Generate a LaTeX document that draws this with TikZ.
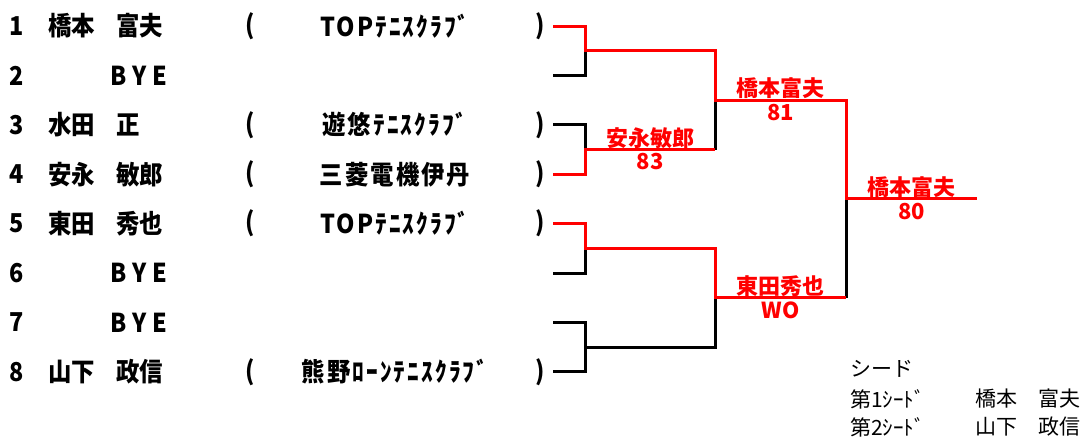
\documentclass[tikz,border=0pt]{standalone}
\usepackage{fontspec}
\setmainfont{Noto Sans CJK JP}
\usepackage{tikz}
\usetikzlibrary{calc}

\tikzset{
  entry/.style={font=\bfseries\fontsize{26}{26}\selectfont\addfontfeature{FakeStretch=0.9}, inner sep=0pt},
  club/.style={entry, font=\bfseries\fontsize{26}{26}\selectfont\addfontfeature{FakeStretch=0.9,LetterSpace=8}},
  winner/.style={font=\bfseries\fontsize{22}{22}\selectfont, text=red, inner sep=1pt},
  seedtxt/.style={font=\fontsize{21}{21}\selectfont, inner sep=0pt, anchor=west},
  blk/.style={line width=3pt, line join=miter},
  rdl/.style={line width=3pt, line join=miter, red},
}

\begin{document}
\begin{tikzpicture}[x=1pt,y=-1pt]
        \useasboundingbox (0,0) rectangle (1090,439);
        \foreach \i in {1,...,8}{
          \node[entry] (n\i) at (17,{26+49.4*(\i-1)}) {\i};
          \coordinate (e\i) at (553,{26+49.4*(\i-1)});
        }
        \foreach \i/\fam/\giv in {1/橋本/富夫,3/水田/正,4/安永/敏郎,5/東田/秀也,8/山下/政信}{
          \node[entry,anchor=west] (fam\i) at (48,{26+49.4*(\i-1)}) {\fam};
          \node[entry,anchor=west] (giv\i) at (116,{26+49.4*(\i-1)}) {\giv};
        }
        \foreach \i in {2,6,7}
          \node[entry,anchor=west] (bye\i) at (110,{26+49.4*(\i-1)}) {B\hspace{6pt}Y\hspace{6pt}E};
        \foreach \i/\cl in {1/TOPﾃﾆｽｸﾗﾌﾞ,3/遊悠ﾃﾆｽｸﾗﾌﾞ,4/三菱電機伊丹,5/TOPﾃﾆｽｸﾗﾌﾞ,8/熊野ﾛｰﾝﾃﾆｽｸﾗﾌﾞ}{
          \node[entry] (lp\i) at (250,{26+49.4*(\i-1)}) {(};
          \node[club] (cl\i) at (395,{26+49.4*(\i-1)}) {\cl};
          \node[entry] (rp\i) at (540,{26+49.4*(\i-1)}) {)};
        }
        % rounds
        \coordinate (m1) at (585,50.7);
        \coordinate (m2) at (585,149.5);
        \coordinate (m3) at (585,248.3);
        \coordinate (m4) at (585,347.1);
        \coordinate (s1) at (715,100.1);
        \coordinate (s2) at (715,297.7);
        \coordinate (f) at (846,198.9);
        \coordinate (fin) at (977,198.9);
        \draw[blk] (e2) -| (m1);
        \draw[blk] (e3) -| (m2);
        \draw[blk] (m2 -| s1) -- (s1);
        \draw[blk] (e6) -| (m3);
        \draw[blk] (e7) -| (m4) -| (s2);
        \draw[blk] (e8) -| (m4);
        \draw[blk] (s2 -| f) -- (f);
        \draw[rdl] (e1) -| (m1) -| (s1) -| (f) -- (fin);
        \draw[rdl] (e4) -| (m2) -- (m2 -| s1);
        \draw[rdl] (e5) -| (m3) -| (s2) -- (s2 -| f);
        % results
        \node[winner,anchor=south] (w1) at ($(m2)!0.5!(m2 -| s1)$) {安永敏郎};
        \node[winner,anchor=north,yshift=-3pt] (r1) at ($(m2)!0.5!(m2 -| s1)$) {83};
        \node[winner,anchor=south] (w2) at ($(s1)!0.5!(s1 -| f)$) {橋本富夫};
        \node[winner,anchor=north,yshift=-3pt] (r2) at ($(s1)!0.5!(s1 -| f)$) {81};
        \node[winner,anchor=south] (w3) at ($(s2)!0.5!(s2 -| f)$) {東田秀也};
        \node[winner,anchor=north,yshift=-3pt] (r3) at ($(s2)!0.5!(s2 -| f)$) {WO};
        \node[winner,anchor=south] (w4) at ($(f)!0.5!(fin)$) {橋本富夫};
        \node[winner,anchor=north,yshift=-3pt] (r4) at ($(f)!0.5!(fin)$) {80};
        % seeds
        \node[seedtxt] (sd) at (850,369) {シード};
        \node[seedtxt] (sd1) at (850,399) {第1ｼｰﾄﾞ};
        \node[seedtxt] (sn1) at (975,399) {橋本　富夫};
        \node[seedtxt] (sd2) at (850,427) {第2ｼｰﾄﾞ};
        \node[seedtxt] (sn2) at (975,427) {山下　政信};
\end{tikzpicture}
\end{document}
